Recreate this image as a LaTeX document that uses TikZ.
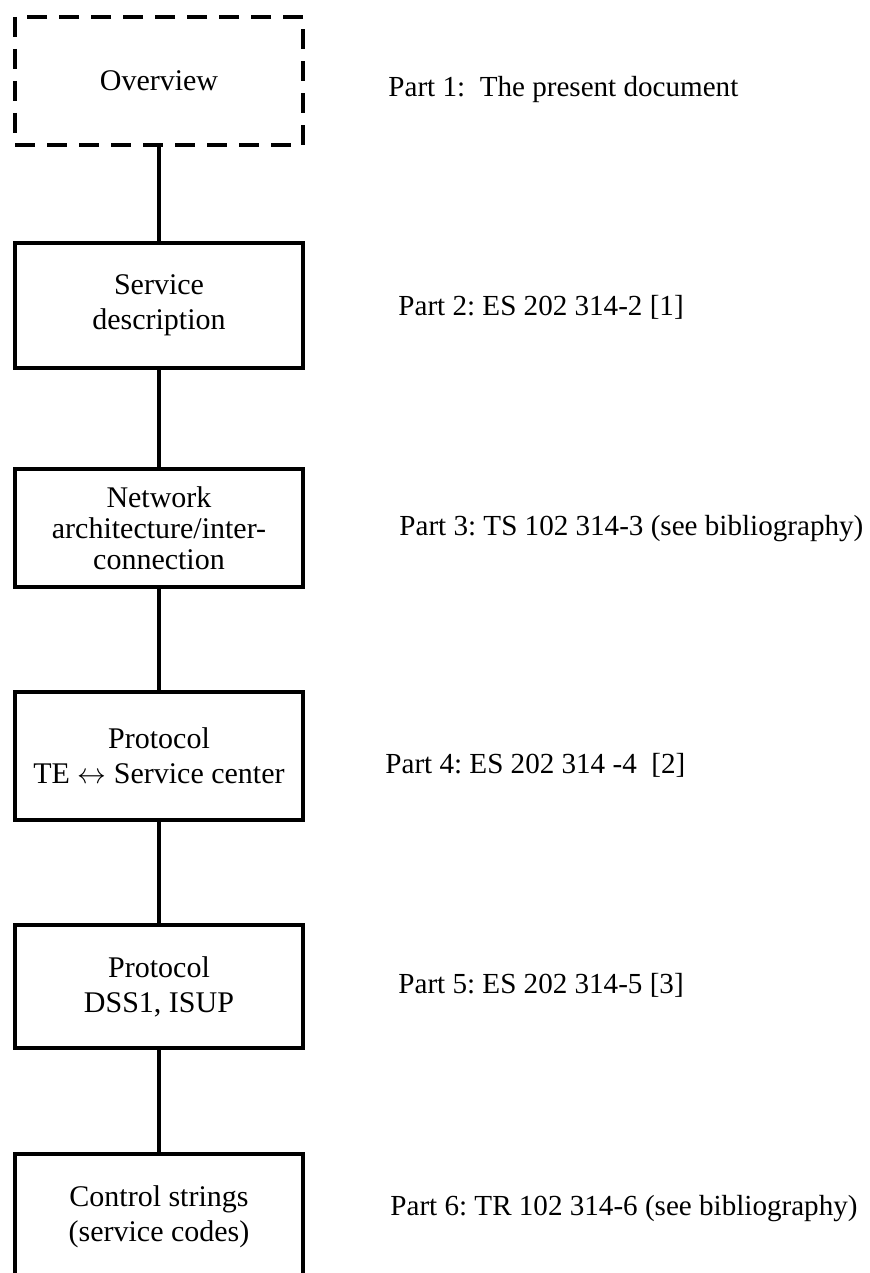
\documentclass[tikz,border=0pt]{standalone}
\usepackage{fontspec}
\setmainfont{Liberation Serif}
\frenchspacing
\begin{document}
\frenchspacing
\begin{tikzpicture}[x=0.5pt,y=-0.5pt,
  box/.style={draw, line width=2pt, minimum width=144pt, inner sep=0pt, align=center,
    font=\fontsize{15pt}{17.5pt}\selectfont},
  dashbox/.style={box, dash pattern=on 10pt off 6pt},
  part/.style={anchor=base west, inner sep=0pt, font=\fontsize{14.55pt}{17.5pt}\selectfont},
  link/.style={line width=2pt}]
\useasboundingbox (0,0) rectangle (870,1273);
\clip (0,0) rectangle (870,1273);
\node[dashbox, minimum height=64pt] (b1) at (159,81) {Overview};
\node[box, minimum height=62.5pt] (b2) at (159,305.5) {Service\\description};
\node[box, minimum height=59pt, font=\fontsize{15pt}{15.5pt}\selectfont] (b3) at (159,528) {Network\\architecture/inter-\\connection};
\node[box, minimum height=63.75pt] (b4) at (159,756) {Protocol\\TE $\leftrightarrow$ Service center};
\node[box, minimum height=61.5pt] (b5) at (159,986.5) {Protocol\\DSS1, ISUP};
\node[box, minimum height=63pt] (b6) at (159,1217) {Control strings\\(service codes)};
\draw[link] (b1.south) -- (b2.north);
\draw[link] (b2.south) -- (b3.north);
\draw[link] (b3.south) -- (b4.north);
\draw[link] (b4.south) -- (b5.north);
\draw[link] (b5.south) -- (b6.north);
\node[part] (p1) at (388,97) {Part 1:\ \ The present document};
\node[part] (p2) at (398,315) {Part 2: ES 202 314-2 [1]};
\node[part] (p3) at (399,535) {Part 3: TS 102 314-3 (see bibliography)};
\node[part] (p4) at (385,773) {Part 4: ES 202 314 -4\ \ [2]};
\node[part] (p5) at (398,993) {Part 5: ES 202 314-5 [3]};
\node[part] (p6) at (390,1215) {Part 6: TR 102 314-6 (see bibliography)};
\end{tikzpicture}
\end{document}
